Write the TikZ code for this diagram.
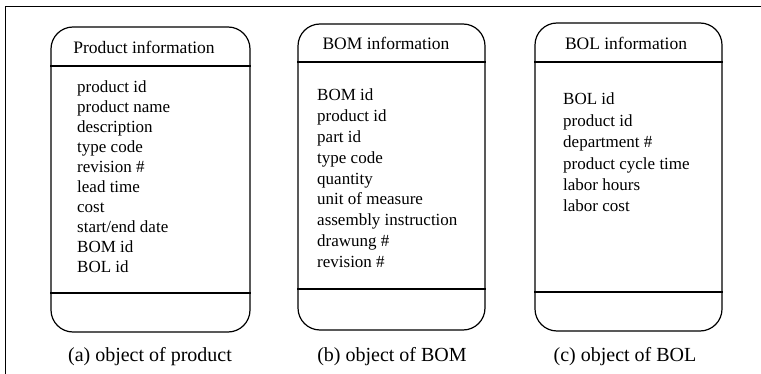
\documentclass[tikz,border=0pt]{standalone}
\usepackage{fontspec}
\setmainfont{Liberation Serif}
\begin{document}
\begin{tikzpicture}[x=1pt,y=-1pt,
  objbox/.style={draw, line width=1.2pt, rounded corners=22pt, inner sep=0pt},
  sepline/.style={line width=1.6pt},
  hdr/.style={font=\fontsize{17.5}{20}\selectfont, inner sep=0pt, anchor=base},
  itemtext/.style={font=\fontsize{17}{20}\selectfont, inner sep=0pt, anchor=base west},
  captext/.style={font=\fontsize{20}{24}\selectfont, inner sep=0pt, anchor=base},
  framel/.style={line width=0.8pt}]
\useasboundingbox (0,0) rectangle (761,374);
% frame
\coordinate (ftl) at (5,6);
\coordinate (ftr) at (761,6);
\coordinate (fbl) at (5,374);
\draw[framel] (fbl) -- (ftl) -- (ftr);
% boxes
\node[objbox, minimum width=199pt, minimum height=305pt] (boxa) at (150.5,179.5) {};
\node[objbox, minimum width=187pt, minimum height=306pt] (boxb) at (391.5,177) {};
\node[objbox, minimum width=187pt, minimum height=308pt] (boxc) at (628.5,177) {};
% separators
\draw[sepline] (boxa.west |- 0,66) -- (boxa.east |- 0,66);
\draw[sepline] (boxa.west |- 0,293) -- (boxa.east |- 0,293);
\draw[sepline] (boxb.west |- 0,62) -- (boxb.east |- 0,62);
\draw[sepline] (boxb.west |- 0,289) -- (boxb.east |- 0,289);
\draw[sepline] (boxc.west |- 0,62) -- (boxc.east |- 0,62);
\draw[sepline] (boxc.west |- 0,292) -- (boxc.east |- 0,292);
% headers
\node[hdr] (ha) at (144,54) {Product information};
\node[hdr] (hb) at (386,50) {BOM information};
\node[hdr] (hc) at (626,50) {BOL information};
% items
\foreach \t [count=\i] in {product id, product name, description, type code, revision \#, lead time, cost, start/end date, BOM id, BOL id}
  \node[itemtext] (a\i) at (77,{93+20*(\i-1)}) {\t};
\foreach \t [count=\i] in {BOM id, product id, part id, type code, quantity, unit of measure, assembly instruction, drawung \#, revision \#}
  \node[itemtext] (b\i) at (317,{101+20.8*(\i-1)}) {\t};
\foreach \t [count=\i] in {BOL id, product id, department \#, product cycle time, labor hours, labor cost}
  \node[itemtext] (c\i) at (563,{105+21.4*(\i-1)}) {\t};
% captions
\node[captext] (capa) at (150,362) {(a) object of product};
\node[captext] (capb) at (392,362) {(b) object of BOM};
\node[captext] (capc) at (625,362) {(c) object of BOL};
\end{tikzpicture}
\end{document}
